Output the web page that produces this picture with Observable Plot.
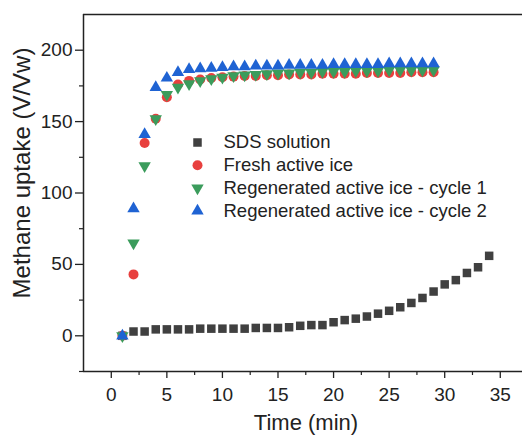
<!DOCTYPE html>
<html>
<head>
<meta charset="utf-8">
<script src="https://cdn.jsdelivr.net/npm/d3@7"></script>
<script src="https://cdn.jsdelivr.net/npm/@observablehq/plot@0.6"></script>
<style>
  html, body { margin: 0; padding: 0; background: #fff; }
  svg { display: block; }
</style>
</head>
<body>
<div id="chart"></div>
<script>
// ---- data ----
const timeSDS = [1,2,3,4,5,6,7,8,9,10,11,12,13,14,15,16,17,18,19,20,21,22,23,24,25,26,27,28,29,30,31,32,33,34];
const sdsSolution = [0,3,3,4.5,4.5,4.5,4.5,5,5,5,5,5,5.5,5.5,5.5,6,7,7.5,7.5,9.5,11,12,13.5,15.5,17.5,20,23,26.5,31,36,39,44,48,56];

const timeIce = [1,2,3,4,5,6,7,8,9,10,11,12,13,14,15,16,17,18,19,20,21,22,23,24,25,26,27,28,29];
const freshIce = [0,43,135,152,167,176,178.5,179.5,180.5,181,181.5,182,182,182.5,182.5,183,183,183,183.5,183.5,183.5,183.5,184,184,184,184,184.5,184.5,184.5];
const regenCycle1 = [0,65,119,152,169,174,176.5,178.5,180,181,182,182.5,183,183.5,184,184,184.5,184.5,185,185,185,185.5,185.5,185.5,186,186,186,186,186];
const regenCycle2 = [0,89,141,174,180.5,184.5,186.5,187,187.5,188,188.5,188.5,189,189,189,189.5,189.5,189.5,189.5,190,190,190,190,190,190.5,190.5,190.5,190.5,190.5];

const seriesNames = ["SDS solution", "Fresh active ice", "Regenerated active ice - cycle 1", "Regenerated active ice - cycle 2"];
const seriesColors = ["#404040", "#e8403e", "#3b9c5c", "#1f63d3"];

const xTicks = [0,5,10,15,20,25,30,35];
const xMinorTicks = [2.5,7.5,12.5,17.5,22.5,27.5,32.5];
const yTicks = [0,50,100,150,200];
const yMinorTicks = [-25,25,75,125,175];
const xDomain = [-2.5, 37];
const yDomain = [-25, 225];
const xLabel = "Time (min)";
const yLabel = "Methane uptake (V/Vw)";

// ---- symbols ----
const sqrt3 = Math.sqrt(3);
const triangleDown = {
  draw(context, size) {
    const y = -Math.sqrt(size / (sqrt3 * 3));
    context.moveTo(0, -y * 2);
    context.lineTo(-sqrt3 * y, y);
    context.lineTo(sqrt3 * y, y);
    context.closePath();
  }
};
const seriesSymbols = ["square", "circle", triangleDown, "triangle"];
const seriesR = [4.8, 5, 4.6, 4.6];

const toRows = (xs, ys) => xs.map((x, i) => ({x, y: ys[i]}));
const seriesData = [
  toRows(timeSDS, sdsSolution),
  toRows(timeIce, freshIce),
  toRows(timeIce, regenCycle1),
  toRows(timeIce, regenCycle2)
];

const font = "'Liberation Sans', Arial, sans-serif";
const ink = "#222";

const marks = [];
if (Plot.axisY) {
  marks.push(
    Plot.axisY(yTicks, {anchor: "left", tickSize: 8, tickPadding: 3, fontSize: 19, label: null, stroke: ink, fill: ink, strokeWidth: 1.3}),
    Plot.axisY(yMinorTicks, {anchor: "left", tickSize: 4, tickFormat: () => "", label: null, stroke: ink, strokeWidth: 1.2}),
    Plot.axisX(xTicks, {anchor: "bottom", tickSize: 7, tickPadding: 9, fontSize: 19, label: null, stroke: ink, fill: ink, strokeWidth: 1.3}),
    Plot.axisX(xMinorTicks, {anchor: "bottom", tickSize: 4, tickFormat: () => "", label: null, stroke: ink, strokeWidth: 1.2})
  );
}
marks.push(
  Plot.ruleY([yDomain[1]], {stroke: ink, strokeWidth: 1.5}),
  Plot.ruleY([yDomain[0]], {stroke: ink, strokeWidth: 1.5}),
  Plot.ruleX([xDomain[0]], {stroke: ink, strokeWidth: 1.5})
);
seriesData.forEach((rows, i) => {
  marks.push(Plot.dot(rows, {x: "x", y: "y", symbol: seriesSymbols[i], r: seriesR[i], fill: seriesColors[i], stroke: "none"}));
});
// legend
seriesNames.forEach((name, i) => {
  marks.push(
    Plot.dot([name], {frameAnchor: "top-left", dx: 114, dy: 128 + i * 22.8, symbol: seriesSymbols[i], r: seriesR[i], fill: seriesColors[i], stroke: "none"}),
    Plot.text([name], {text: d => d, frameAnchor: "top-left", dx: 140, dy: 128 + i * 22.8, textAnchor: "start", lineAnchor: "middle", fontSize: 18.5, fill: ink})
  );
});
// axis titles
marks.push(
  Plot.text([yLabel], {text: d => d, frameAnchor: "left", dx: -61, dy: -20, rotate: -90, textAnchor: "middle", lineAnchor: "middle", fontSize: 24, fill: ink}),
  Plot.text([xLabel], {text: d => d, frameAnchor: "bottom", dx: 3, dy: 51, textAnchor: "middle", lineAnchor: "middle", fontSize: 22, fill: ink})
);

const chart = Plot.plot({
  width: 522,
  height: 438,
  marginLeft: 83,
  marginRight: 0,
  marginTop: 14,
  marginBottom: 67,
  style: {fontFamily: font, background: "#fff", overflow: "visible"},
  x: {domain: xDomain, ticks: xTicks, tickSize: 7, tickPadding: 9, label: null, ...(Plot.axisX ? {axis: null} : {})},
  y: {domain: yDomain, ticks: yTicks, tickSize: 8, tickPadding: 3, label: null, ...(Plot.axisY ? {axis: null} : {})},
  marks
});
document.getElementById("chart").appendChild(chart);
</script>
</body>
</html>
